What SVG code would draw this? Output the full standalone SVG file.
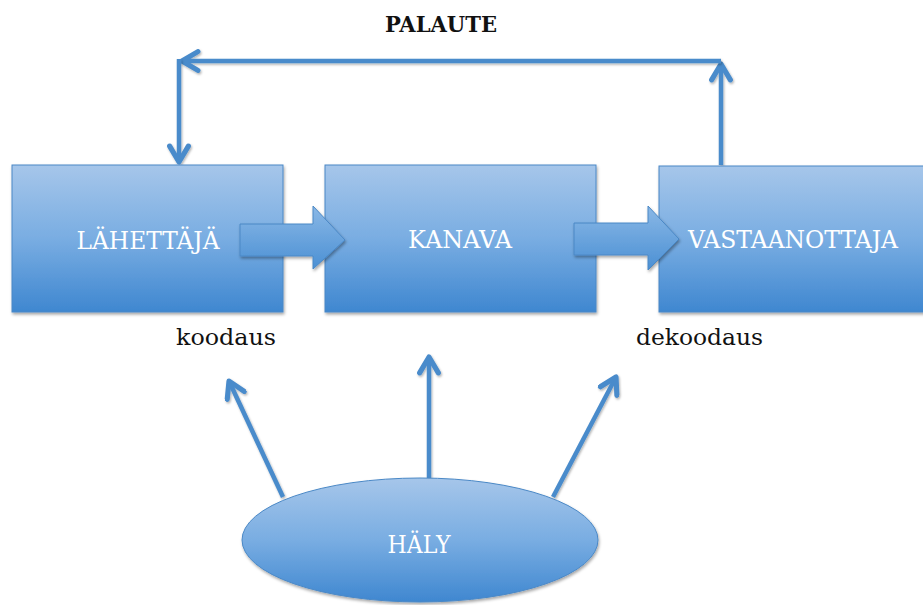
<svg xmlns="http://www.w3.org/2000/svg" width="923" height="605" viewBox="0 0 923 605">
  <defs>
    <linearGradient id="fillBlue" x1="0" y1="0" x2="0" y2="1">
      <stop offset="0" stop-color="#a6c6ea"/>
      <stop offset="0.5" stop-color="#79ade2"/>
      <stop offset="1" stop-color="#3f87d0"/>
    </linearGradient>
    <linearGradient id="fillArrow" x1="0" y1="0" x2="0" y2="1">
      <stop offset="0" stop-color="#8ab8e6"/>
      <stop offset="1" stop-color="#4b90d4"/>
    </linearGradient>
    <filter id="shadow" x="-10%" y="-10%" width="120%" height="125%">
      <feDropShadow dx="1" dy="2" stdDeviation="1.5" flood-color="#000" flood-opacity="0.35"/>
    </filter>
    <!-- user-space region so straight horizontal/vertical lines keep their shadow -->
    <filter id="lineShadow" filterUnits="userSpaceOnUse" x="0" y="0" width="923" height="605">
      <feDropShadow dx="1" dy="1.5" stdDeviation="1.2" flood-color="#000" flood-opacity="0.3"/>
    </filter>
    <marker id="head" viewBox="0 0 10 10" refX="8" refY="5" markerWidth="5.2" markerHeight="5.2" orient="auto" markerUnits="strokeWidth">
      <path d="M1.2,1 L8,5 L1.2,9" fill="none" stroke="#4a8bcb" stroke-width="2.2" stroke-linecap="round" stroke-linejoin="round"/>
    </marker>
  </defs>
  <style>
    .box { fill: url(#fillBlue); stroke: #4a88c6; stroke-width: 1; filter: url(#shadow); }
    .blk { fill: url(#fillArrow); stroke: #4a88c6; stroke-width: 1; filter: url(#shadow); }
    .wire { fill: none; stroke: #4a8bcb; stroke-width: 4.5; marker-end: url(#head); filter: url(#lineShadow); }
    .lbl { font-family: "DejaVu Serif", "Liberation Serif", serif; fill: #ffffff; font-size: 25px; text-anchor: middle; }
    .note { font-family: "DejaVu Serif", "Liberation Serif", serif; fill: #111111; font-size: 22px; }
  </style>

  <rect width="923" height="605" fill="#ffffff"/>

  <!-- connectors: feedback loop and noise arrows -->
  <g id="connectors">
    <line class="wire" x1="721" y1="165" x2="721" y2="64"/>
    <line class="wire" x1="721" y1="61" x2="182" y2="61"/>
    <line class="wire" x1="179" y1="59" x2="179" y2="162"/>
    <line class="wire" x1="283" y1="497" x2="229" y2="381"/>
    <line class="wire" x1="429" y1="478" x2="429" y2="357"/>
    <line class="wire" x1="553" y1="497" x2="616" y2="377"/>
  </g>

  <g id="lahettaja">
    <rect class="box" x="12" y="165" width="271" height="147"/>
    <text class="lbl" x="148" y="249" textLength="143" lengthAdjust="spacingAndGlyphs">LÄHETTÄJÄ</text>
  </g>

  <g id="kanava">
    <rect class="box" x="325" y="165" width="271" height="147"/>
    <text class="lbl" x="460" y="248" textLength="104" lengthAdjust="spacingAndGlyphs">KANAVA</text>
  </g>

  <g id="vastaanottaja">
    <rect class="box" x="659" y="166" width="270" height="146"/>
    <text class="lbl" x="793" y="248" textLength="210" lengthAdjust="spacingAndGlyphs">VASTAANOTTAJA</text>
  </g>

  <!-- block arrows between the stages -->
  <g id="arrow-lahettaja-kanava">
    <path class="blk" d="M240,224 H313 V206 L345,240 L313,269 V256 H240 Z"/>
  </g>
  <g id="arrow-kanava-vastaanottaja">
    <path class="blk" d="M574,223 H648 V206 L679,239 L648,270 V255 H574 Z"/>
  </g>

  <g id="haly">
    <ellipse class="box" cx="420" cy="540" rx="178" ry="62"/>
    <text class="lbl" x="419" y="553" textLength="63" lengthAdjust="spacingAndGlyphs">HÄLY</text>
  </g>

  <g id="labels">
    <text class="note" x="385" y="32" font-weight="bold" textLength="112" lengthAdjust="spacingAndGlyphs">PALAUTE</text>
    <text class="note" x="176" y="345" textLength="100" lengthAdjust="spacingAndGlyphs">koodaus</text>
    <text class="note" x="636" y="345" textLength="127" lengthAdjust="spacingAndGlyphs">dekoodaus</text>
  </g>
</svg>
